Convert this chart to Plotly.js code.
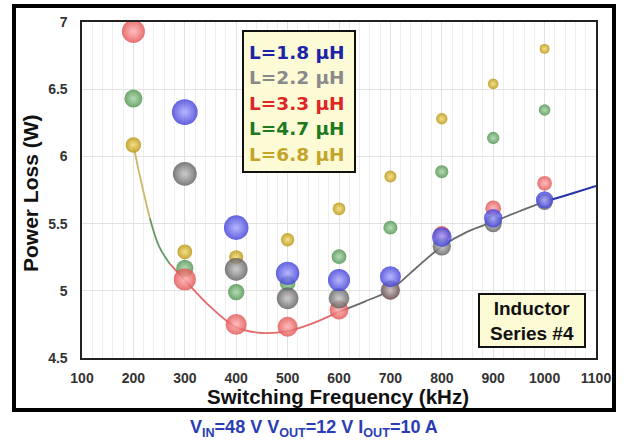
<!DOCTYPE html>
<html><head><meta charset="utf-8">
<script src="https://cdn.plot.ly/plotly-3.0.1.min.js"></script>
<style>html,body{margin:0;padding:0;background:#fff;}#chart{width:624px;height:442px;}</style>
</head><body><div id="chart"></div>
<script>
// ---- data ----
const freq = [200, 300, 400, 500, 600, 700, 800, 900, 1000];
const lossL18 = [null, 6.33, 5.47, 5.13, 5.08, 5.105, 5.40, 5.54, 5.676];
const lossL22 = [null, 5.87, 5.16, 4.944, 4.944, 5.006, 5.33, 5.50, 5.66];
const lossL33 = [6.93, 5.085, 4.75, 4.733, 4.857, 5.00, 5.42, 5.614, 5.80];
const lossL47 = [6.43, 5.167, 4.99, 5.056, 5.254, 5.47, 5.886, 6.137, 6.345];
const lossL68 = [6.085, 5.29, 5.25, 5.38, 5.61, 5.85, 6.28, 6.54, 6.80];
const seriesNames = ["L=1.8 µH", "L=2.2 µH", "L=3.3 µH", "L=4.7 µH", "L=6.8 µH"];
// minimum-loss envelope curve
const curveFreq = [200, 210, 220, 232, 250, 271, 300, 350, 400, 450, 500, 550, 600, 650, 700, 750, 800, 850, 900, 950, 1000, 1050, 1100];
const curveLoss = [6.085, 5.90, 5.73, 5.54, 5.33, 5.20, 5.08, 4.88, 4.73, 4.686, 4.70, 4.76, 4.845, 4.92, 5.006, 5.17, 5.33, 5.44, 5.514, 5.59, 5.663, 5.72, 5.78];
const curveBreaks = [200, 232, 271, 600, 1000, 1100]; // colour changes: 6.8, 4.7, 3.3, 2.2, 1.8 µH
const xTicks = [100, 200, 300, 400, 500, 600, 700, 800, 900, 1000, 1100];
const yTicks = [4.5, 5, 5.5, 6, 6.5, 7];

// ---- styles ----
const L = 82, R = 596, T = 22, B = 358;
const px = x => (x - L) / (R - L);
const py = y => (B - y) / (B - T);
const FONT = "Liberation Sans, Arial, sans-serif";
const LEGFONT = "DejaVu Sans, Liberation Sans, sans-serif";
const styles = [
  {edge: "#3f3fd8", center: "#a8a8ff", base: 27, text: "#1c23a8"},
  {edge: "#5e5e5e", center: "#c4c4c4", base: 25, text: "#8a8a8a"},
  {edge: "#e25252", center: "#ffb0b0", base: 23, text: "#e02525"},
  {edge: "#4b914b", center: "#a8d4a8", base: 18, text: "#1f7a1f"},
  {edge: "#b8920c", center: "#f4dc70", base: 15.5, text: "#c4a42a"}
];
const segColors = ["#cdb86a", "#5f9c5f", "#e36a6a", "#6a6a6a", "#2432a8"];
const allLoss = [lossL18, lossL22, lossL33, lossL47, lossL68];

const traces = [];
// envelope segments
for (let s = 0; s < segColors.length; s++) {
  const xs = [], ys = [];
  curveFreq.forEach((f, i) => { if (f >= curveBreaks[s] && f <= curveBreaks[s + 1]) { xs.push(f); ys.push(curveLoss[i]); } });
  traces.push({x: xs, y: ys, type: "scatter", mode: "lines", line: {color: segColors[s], width: s === 4 ? 2.2 : 1.8, shape: "spline", smoothing: 1}, hoverinfo: "skip", showlegend: false});
}
// markers: draw order gold, green, red, grey, blue
const order = [4, 3, 2, 1, 0];
order.forEach(k => {
  const st = styles[k];
  traces.push({
    x: freq, y: allLoss[k], type: "scatter", mode: "markers", name: seriesNames[k], showlegend: false,
    marker: {
      color: st.edge, opacity: 0.82,
      size: freq.map(f => st.base * (1 - 0.45 * (f - 200) / 1000)),
      gradient: {type: "radial", color: st.center},
      line: {width: 0}
    }
  });
});

const annotations = [];
// legend text lines
const legY = [52, 77, 103, 128, 154];
seriesNames.forEach((n, k) => {
  annotations.push({xref: "paper", yref: "paper", x: px(247), y: py(legY[k]), xanchor: "left", yanchor: "middle",
    text: "<b>" + n + "</b>", showarrow: false, font: {family: LEGFONT, size: 18.5, color: styles[k].text}});
});
annotations.push({xref: "paper", yref: "paper", x: px(532), y: py(320.5), xanchor: "center", yanchor: "middle",
  text: "<b>Inductor<br>Series #4</b>", showarrow: false, font: {family: FONT, size: 19, color: "#111"}});
annotations.push({xref: "paper", yref: "paper", x: px(338), y: py(396), xanchor: "center", yanchor: "middle",
  text: "<b>Switching Frequency (kHz)</b>", showarrow: false, font: {family: FONT, size: 20.5, color: "#111"}});
annotations.push({xref: "paper", yref: "paper", x: px(30), y: py(193), xanchor: "center", yanchor: "middle", textangle: -90,
  text: "<b>Power Loss (W)</b>", showarrow: false, font: {family: FONT, size: 21, color: "#111"}});
annotations.push({xref: "paper", yref: "paper", x: px(314), y: py(428), xanchor: "center", yanchor: "middle",
  text: "<b>V<sub>IN</sub>=48 V V<sub>OUT</sub>=12 V I<sub>OUT</sub>=10 A</b>", showarrow: false, font: {family: FONT, size: 18, color: "#2a3db4"}});

const shapes = [
  {type: "rect", xref: "paper", yref: "paper", x0: px(14), x1: px(614), y0: py(6), y1: py(410), line: {color: "#000", width: 4}, fillcolor: "rgba(0,0,0,0)"},
  {type: "rect", xref: "paper", yref: "paper", x0: px(243), x1: px(355), y0: py(31), y1: py(172), line: {color: "#111", width: 2}, fillcolor: "#fdfbd6", layer: "above"},
  {type: "rect", xref: "paper", yref: "paper", x0: px(479), x1: px(585), y0: py(294), y1: py(347), line: {color: "#111", width: 2}, fillcolor: "#fdfbd6", layer: "above"}
];

const tickFont = {family: FONT, size: 14, color: "#333", weight: "bold"};
const layout = {
  width: 624, height: 442,
  margin: {l: L, r: 624 - R, t: T, b: 442 - B},
  paper_bgcolor: "#fff", plot_bgcolor: "#fff",
  showlegend: false,
  xaxis: {range: [100, 1100], tickvals: xTicks, ticktext: xTicks.map(String), tickfont: tickFont,
    ticks: "outside", ticklen: 7, tickcolor: "rgba(0,0,0,0)",
    showgrid: true, gridcolor: "#e2e2e2", gridwidth: 1,
    minor: {dtick: 20, showgrid: true, gridcolor: "#efefef", ticks: ""},
    showline: true, mirror: true, linecolor: "#222", linewidth: 1.6, zeroline: false},
  yaxis: {range: [4.5, 7], tickvals: yTicks, ticktext: yTicks.map(String), tickfont: tickFont,
    ticks: "outside", ticklen: 10, tickcolor: "rgba(0,0,0,0)",
    showgrid: true, gridcolor: "#e2e2e2", gridwidth: 1,
    showline: true, mirror: true, linecolor: "#222", linewidth: 1.6, zeroline: false},
  shapes: shapes,
  annotations: annotations
};
Plotly.newPlot("chart", traces, layout, {displayModeBar: false, staticPlot: true});
</script>
</body></html>
